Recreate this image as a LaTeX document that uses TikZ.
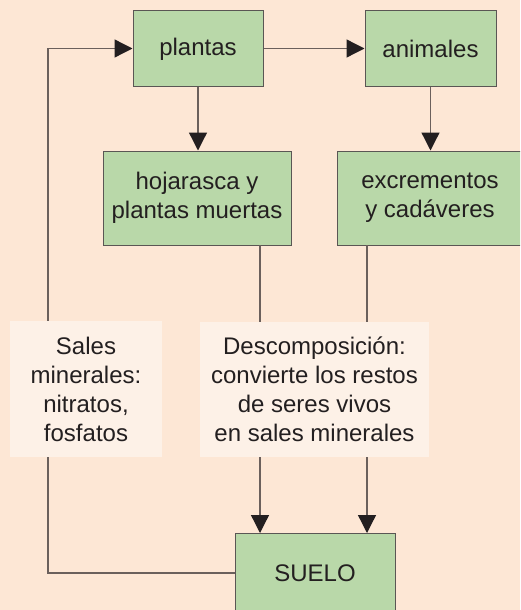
\documentclass[tikz,border=0pt]{standalone}
\usepackage{fontspec}
\setmainfont{Liberation Sans}
\usetikzlibrary{arrows.meta}
\definecolor{bg}{HTML}{FDE7D5}
\definecolor{boxgreen}{HTML}{B9D8A9}
\definecolor{labelbg}{HTML}{FDF1E7}
\definecolor{linegray}{HTML}{6B605C}
\definecolor{bordergray}{HTML}{5A5654}
\definecolor{ink}{HTML}{231F20}
\begin{document}
\begin{tikzpicture}[x=1pt,y=-1pt,
  gbox/.style={draw=bordergray,line width=1pt,fill=boxgreen,text=ink,align=center,inner sep=0pt,font=\fontsize{24}{29}\selectfont},
  lbox/.style={fill=labelbg,text=ink,align=center,inner sep=0pt,font=\fontsize{24}{29}\selectfont},
  conn/.style={draw=linegray,line width=1.3pt},
  arr/.style={conn,-{Triangle[length=18pt,width=18pt,fill=ink,color=ink]}}]
\useasboundingbox (0,0) rectangle (520,610);
\fill[bg] (0,0) rectangle (520,610);
\clip (0,0) rectangle (520,610);
% boxes
\node[gbox,minimum width=130pt,minimum height=75pt,text depth=3pt] (plantas) at (198,48.5) {plantas};
\node[gbox,minimum width=131pt,minimum height=75pt] (animales) at (430.5,48.5) {animales};
\node[gbox,minimum width=188pt,minimum height=94pt] (hoj) at (197,198) {hojarasca y\\plantas muertas};
\node[gbox,minimum width=186pt,minimum height=94pt] (exc) at (430,198) {excrementos\\y cad\'averes};
\node[gbox,minimum width=160pt,minimum height=80pt] (suelo) at (315,573) {SUELO};
% coordinates
\coordinate (lt) at (48,48.5);
\coordinate (lb) at (48,573);
\coordinate (hb) at (260,245);
\coordinate (eb) at (367,245);
\coordinate (st1) at (260,533);
\coordinate (st2) at (367,533);
% connectors
\draw[arr] (suelo.west) -- (lb) -- (lt) -- (plantas.west);
\draw[arr] (plantas.east) -- (animales.west);
\draw[arr] (plantas.south) -- (plantas.south |- hoj.north);
\draw[arr] (animales.south) -- (animales.south |- exc.north);
\draw[arr] (hb) -- (st1);
\draw[arr] (eb) -- (st2);
% labels on top
\node[lbox,minimum width=152pt,minimum height=136pt] (sales) at (86,389) {Sales\\minerales:\\nitratos,\\fosfatos};
\node[lbox,minimum width=229pt,minimum height=135pt] (desc) at (314.5,389.5) {Descomposici\'on:\\convierte los restos\\de seres vivos\\en sales minerales};
\end{tikzpicture}
\end{document}
